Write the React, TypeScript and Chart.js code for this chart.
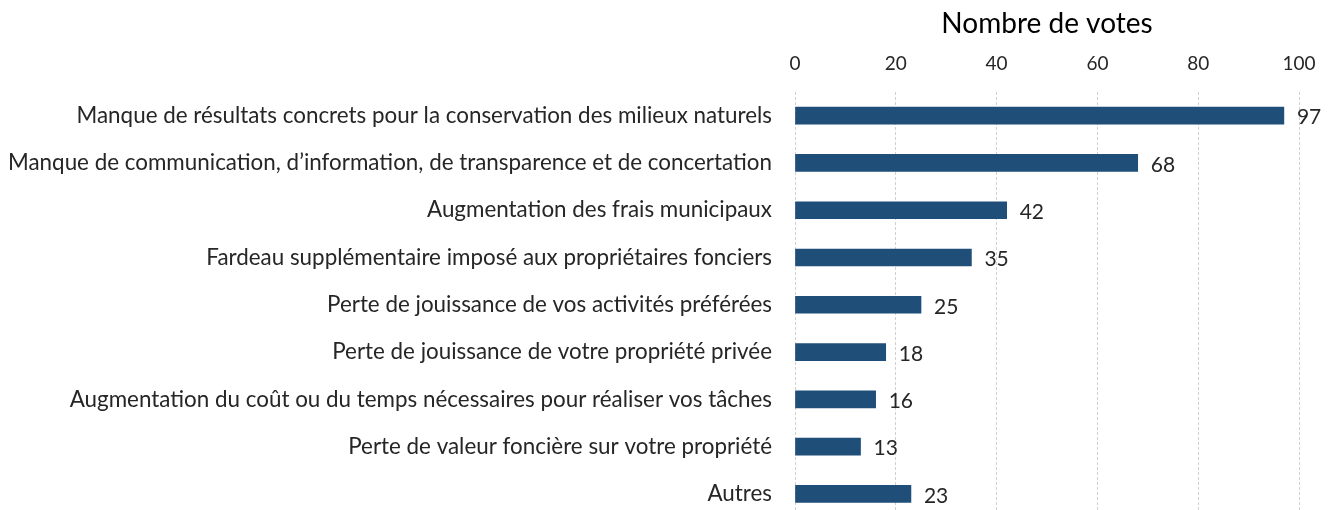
import React, { useEffect, useRef } from "react";
import { Chart, registerables } from "chart.js";

Chart.register(...registerables);

const categories = [
  "Manque de résultats concrets pour la conservation des milieux naturels",
  "Manque de communication, d’information, de transparence et de concertation",
  "Augmentation des frais municipaux",
  "Fardeau supplémentaire imposé aux propriétaires fonciers",
  "Perte de jouissance de vos activités préférées",
  "Perte de jouissance de votre propriété privée",
  "Augmentation du coût ou du temps nécessaires pour réaliser vos tâches",
  "Perte de valeur foncière sur votre propriété",
  "Autres",
];
const votes = [97, 68, 42, 35, 25, 18, 16, 13, 23];
const axisTitle = "Nombre de votes";
const xMin = 0;
const xMax = 100;
const xStep = 20;

const FONT = "Lato, 'Liberation Sans', sans-serif";

const valueLabels = {
  id: "valueLabels",
  afterDatasetsDraw(chart: any) {
    const ctx = chart.ctx;
    const meta = chart.getDatasetMeta(0);
    ctx.save();
    ctx.font = `21px ${FONT}`;
    ctx.fillStyle = "#262626";
    ctx.textAlign = "left";
    ctx.textBaseline = "middle";
    meta.data.forEach((bar: any, i: number) => {
      ctx.fillText(String(votes[i]), bar.x + 13, bar.y + 2);
    });
    ctx.restore();
  },
};

export default function App() {
  const ref = useRef<HTMLCanvasElement>(null);
  useEffect(() => {
    document.body.style.margin = "0";
    document.body.style.overflow = "hidden";
    const chart = new Chart(ref.current!, {
      type: "bar",
      data: {
        labels: categories,
        datasets: [
          {
            data: votes,
            backgroundColor: "#1F4E79",
            barThickness: 17,
          },
        ],
      },
      options: {
        indexAxis: "y",
        animation: false,
        responsive: false,
        layout: { padding: { right: 34, bottom: 3 } },
        plugins: { legend: { display: false }, tooltip: { enabled: false } },
        scales: {
          x: {
            position: "top",
            min: xMin,
            max: xMax,
            ticks: {
              stepSize: xStep,
              color: "#262626",
              font: { family: FONT, size: 19 },
              padding: 17,
            },
            grid: {
              color: "#d0d0d0",
              drawTicks: false,
            },
            border: { display: false, dash: [3, 2] },
            title: {
              display: true,
              text: axisTitle,
              color: "#000",
              font: { family: FONT, size: 28 },
              padding: { top: 7, bottom: 0 },
            },
            afterFit(scale: any) {
              scale.height = 92;
            },
          },
          y: {
            ticks: {
              color: "#262626",
              font: { family: FONT, size: 22.4 },
              padding: 23,
              autoSkip: false,
            },
            grid: { display: false, drawTicks: false },
            border: { display: false },
            afterFit(scale: any) {
              scale.width = 795;
            },
          },
        },
      },
      plugins: [valueLabels],
    });
    return () => chart.destroy();
  }, []);
  return <canvas ref={ref} width={1333} height={554} style={{ display: "block" }} />;
}
